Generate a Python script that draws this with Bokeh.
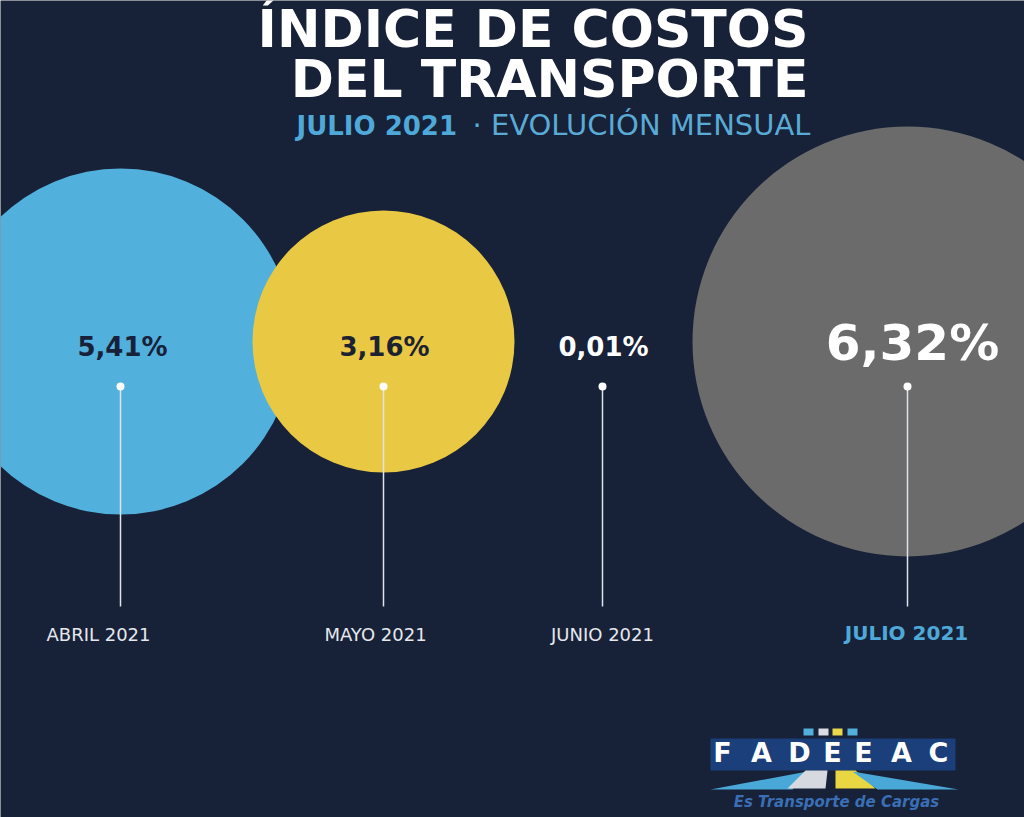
from bokeh.plotting import figure
from bokeh.models import Range1d, ColumnDataSource
from bokeh.core.properties import value
from bokeh.embed import file_html
from bokeh.resources import INLINE

# ---------------- data ----------------
months = ["ABRIL 2021", "MAYO 2021", "JUNIO 2021", "JULIO 2021"]
values = [5.41, 3.16, 0.01, 6.32]
value_labels = [f"{v:.2f}".replace(".", ",") + "%" for v in values]

title_lines = ["ÍNDICE DE COSTOS", "DEL TRANSPORTE"]
subtitle_bold = "JULIO 2021"
subtitle_rest = "· EVOLUCIÓN MENSUAL"
logo_name = "FADEEAC"
logo_tag = "Es Transporte de Cargas"

# ---------------- layout / style ----------------
BG = "#172137"
center_x = [120, 383, 602, 907]
center_y = 341
bubble_radius = [173, 131, 0, 215]
bubble_colors = ["#52b0dd", "#e9c944", BG, "#6b6b6b"]
label_colors = ["#18213a", "#1d2233", "#ffffff", "#ffffff"]
month_x = [98, 375, 602, 906]
month_colors = ["#e6e8ee", "#e6e8ee", "#e6e8ee", "#4ea9d9"]
FONT = value("DejaVu Sans")


def base(y, size):
    # place the alphabetic baseline of a text of font size `size` at pixel row y
    return y - 0.41 * size


p = figure(width=1024, height=817, x_range=Range1d(0, 1024), y_range=Range1d(817, 0),
           output_backend="svg", toolbar_location=None, min_border=0,
           x_axis_location=None, y_axis_location=None)
p.grid.visible = False
p.outline_line_color = None
p.background_fill_color = BG
p.border_fill_color = BG

src = ColumnDataSource(dict(
    x=center_x, y=[center_y] * 4, r=bubble_radius, c=bubble_colors,
))

# bubbles
p.circle(x="x", y="y", radius="r", fill_color="c", line_color=None, source=src)

# leader lines + dots
p.segment(x0="x", y0=386, x1="x", y1=606, line_color="#dfe3ea", line_width=1.5, source=src)
p.scatter(x="x", y=386, size=8, fill_color="#ffffff", line_color=None, source=src)

# value labels
small = ColumnDataSource(dict(x=[122, 384, 603], y=[base(357, 26)] * 3,
                              t=value_labels[:3], c=label_colors[:3]))
p.text(x="x", y="y", text="t", text_color="c", source=small, text_font=FONT,
       text_font_style="bold", text_font_size="26px", text_align="center",
       text_baseline="alphabetic")
p.text(x=[912], y=[base(363, 50)], text=[value_labels[3]], text_color=label_colors[3],
       text_font=FONT, text_font_style="bold", text_font_size="50px", text_align="center",
       text_baseline="alphabetic")

# month labels
reg = ColumnDataSource(dict(x=month_x[:3], y=[base(641, 18)] * 3, t=months[:3],
                            c=month_colors[:3]))
p.text(x="x", y="y", text="t", text_color="c", source=reg, text_font=FONT,
       text_font_size="18px", text_align="center", text_baseline="alphabetic")
p.text(x=[month_x[3]], y=[base(641, 20)], text=[months[3]], text_color=month_colors[3],
       text_font=FONT, text_font_style="bold", text_font_size="20px", text_align="center",
       text_baseline="alphabetic")

# title
p.text(x=[808, 808], y=[base(50, 52), base(100, 52)], text=title_lines, text_color="#ffffff",
       text_font=FONT, text_font_style="bold", text_font_size="52px", text_align="right",
       text_baseline="alphabetic")
p.text(x=[296], y=[base(136, 26)], text=[subtitle_bold], text_color="#4ea9d9", text_font=FONT,
       text_font_style="bold", text_font_size="26px", text_align="left",
       text_baseline="alphabetic")
p.text(x=[810], y=[base(136, 29)], text=[subtitle_rest], text_color="#5aaad6", text_font=FONT,
       text_font_size="29px", text_align="right", text_baseline="alphabetic")

# logo
p.quad(left=[710], right=[955], top=[738], bottom=[770], fill_color="#1b3f7a", line_color=None)
p.quad(left=[803, 818, 832, 847], right=[813, 828, 842, 857], top=[728] * 4, bottom=[735] * 4,
       fill_color=["#52b0dd", "#d9dce3", "#e9d84a", "#52b0dd"], line_color=None)
p.patches(xs=[[710, 792, 807], [787, 825, 827, 805], [835, 875, 855, 835], [852, 877, 958]],
          ys=[[789, 789, 771], [788, 788, 770, 770], [788, 788, 770, 770], [771, 789, 789]],
          fill_color=["#4aa8d8", "#d6d9e0", "#e8d743", "#4aa8d8"], line_color=None)
letter_x = [722, 761, 799, 832, 863, 901, 938]
p.text(x=letter_x, y=[base(763, 27)] * 7, text=list(logo_name), text_color="#ffffff",
       text_font=FONT, text_font_style="bold", text_font_size="27px", text_align="center",
       text_baseline="alphabetic")
p.text(x=[836], y=[base(808, 15)], text=[logo_tag], text_color="#3a6fb5", text_font=FONT,
       text_font_style="bold italic", text_font_size="15px", text_align="center",
       text_baseline="alphabetic")

open("out.html", "w").write(file_html(p, INLINE))
